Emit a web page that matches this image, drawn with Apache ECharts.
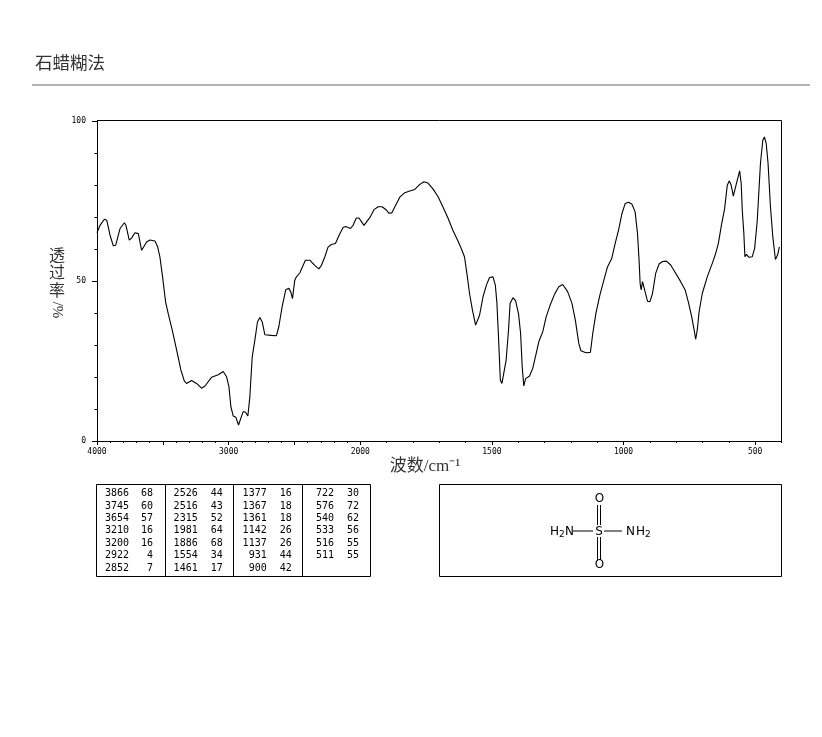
<!DOCTYPE html>
<html><head><meta charset="utf-8">
<script src="https://cdn.jsdelivr.net/npm/echarts@6/dist/echarts.min.js"></script>
<style>html,body{margin:0;padding:0;background:#fff}#c{width:822px;height:737px}</style>
</head><body><div id="c"></div>
<script>
const titleText = '石蜡糊法';
const xName = '波数/cm⁻¹';
// 4000-2000 cm-1 half of the spectrum (axis scale changes at 2000)
const wnHigh = [4000,3977,3944,3926,3901,3876,3858,3825,3792,3780,3755,3737,3712,3686,3661,3648,3623,3598,3560,3540,3522,3502,3479,3459,3428,3395,3363,3337,3320,3282,3244,3206,3180,3130,3079,3041,3016,2998,2983,2965,2945,2925,2890,2872,2854,2839,2821,2801,2781,2763,2745,2725,2675,2637,2619,2594,2566,2543,2528,2515,2498,2485,2460,2417,2384,2346,2315,2295,2270,2245,2220,2189,2161,2131,2111,2075,2055,2030,2012,2000];
const tHigh = [65.1,67.4,69.3,69,64.3,61,61.2,66.4,68.2,67.4,62.8,63.4,65.1,64.8,59.6,59.8,62.2,62.8,62.5,60.8,57.5,51.3,43.5,39.8,34.6,28.4,22.2,18.8,18,18.9,18,16.5,17.2,19.9,20.7,21.7,20.1,17,10.7,7.8,7.4,5,9.2,9,7.8,13.8,26.3,31.5,37.2,38.6,37.2,33.2,33,32.9,35.7,41.9,47.3,47.7,46.6,44.5,50.2,51.3,52.5,56.5,56.5,54.9,53.8,54.9,57.5,60.6,61.4,61.7,64.3,66.7,67,66.4,67.4,69.7,69.7,69.1];
// 2000-400 cm-1 half
const wnLow = [2000,1986,1979,1964,1948,1932,1917,1900,1892,1880,1869,1850,1831,1812,1793,1774,1758,1743,1724,1705,1686,1667,1648,1629,1616,1604,1595,1585,1574,1562,1555,1547,1534,1521,1509,1496,1487,1481,1475,1468,1462,1456,1446,1437,1431,1420,1410,1399,1391,1385,1379,1372,1357,1345,1332,1322,1307,1294,1279,1262,1246,1231,1212,1196,1183,1170,1162,1143,1126,1117,1105,1090,1073,1061,1045,1032,1019,1006,994,981,968,956,947,941,937,933,928,922,918,909,900,890,878,865,852,837,821,802,783,766,754,741,732,726,720,713,701,682,663,650,640,627,616,606,598,591,583,577,568,559,553,549,543,539,533,524,511,502,492,480,471,465,458,451,442,433,423,415,408];
const tLow = [69.1,67.4,67.3,69.8,72.3,73.2,73.2,72.1,71.2,71.3,73.1,76.2,77.6,78.1,78.6,80.2,81,80.6,78.8,76.4,73.1,69.7,65.8,62.5,60.1,57.5,52.3,46.1,40.9,36.2,36.1,39.3,45,48.7,51.1,51.3,48.7,43,32.5,19,18,18.5,25.3,34.6,43,44.8,43.8,39.8,33.6,23.2,17.2,19.5,20.3,22.7,27.3,31,34.1,38.8,42.4,45.9,48.2,48.9,46.6,43,37.7,30.5,28.2,27.6,27.7,33.6,39.9,45.6,50.8,54.4,57,61.7,65.9,71.1,74.2,74.6,74,71.6,64.8,56.5,49.2,47.2,49.8,50,46.6,43.7,43.5,46.1,52.4,55.3,56.1,56.2,55,52.4,49.8,47.2,43.5,38.8,34.7,31.8,34.7,40.4,46.1,51.3,55.5,58.6,61.7,68,72.6,79.9,81.3,79.9,76.5,76.5,81.5,84.4,80.4,72.1,64.8,57.6,58.3,57.4,57.6,60.2,69,86.7,94,95,92.9,86.7,73.2,63.8,56.7,58.1,60.7];
// tick labels
const highMajor = [4000,3500,3000,2500,2000];
const highLabels = [4000,3000,2000];
const lowMajor = [2000,1500,1000,500];
const lowLabels = [1500,1000,500];
const highMinor = [3900,3800,3700,3600,3400,3300,3200,3100,2900,2800,2700,2600,2400,2300,2200,2100];
const lowMinor = [1900,1800,1700,1600,1400,1300,1200,1100,900,800,700,600,400];
const yMajor = [0,50,100];
const yMinor = [10,20,30,40,60,70,80,90];
// peak table
const peakCols = [
  [[3866,68],[3745,60],[3654,57],[3210,16],[3200,16],[2922,4],[2852,7]],
  [[2526,44],[2516,43],[2315,52],[1981,64],[1886,68],[1554,34],[1461,17]],
  [[1377,16],[1367,18],[1361,18],[1142,26],[1137,26],[931,44],[900,42]],
  [[722,30],[576,72],[540,62],[533,56],[516,55],[511,55]]
];

const mono = '"DejaVu Sans Mono",monospace';
const cjk = '"Liberation Serif","Noto Sans CJK SC",serif';
const ink = '#000';
const g = [];
const line = (x1,y1,x2,y2,stroke,w) => g.push({type:'line',silent:true,shape:{x1,y1,x2,y2},style:{stroke:stroke||ink,lineWidth:w||1}});
const text = (x,y,t,o) => g.push({type:'text',silent:true,x,y,rotation:(o&&o.rotation)||0,style:Object.assign({text:t,fill:ink,font:'10px '+mono,textAlign:'left',textVerticalAlign:'middle'},o&&o.style)});

text(35,64,titleText,{style:{font:'17.5px '+cjk,fill:'#333'}});
line(32,85,810,85,'#999',1.5);
line(97,120.5,781.5,120.5);
line(781.5,120.5,781.5,441);
text(425,467,xName,{style:{font:'17px '+cjk,fill:'#333',textAlign:'center'}});
text(57,274,'透\n过\n率',{style:{font:'16px '+cjk,fill:'#333',textAlign:'center',lineHeight:17.5}});
text(57,310,'/%',{rotation:-Math.PI/2,style:{font:'15px '+cjk,fill:'#333',textAlign:'center'}});

// table
line(96.5,484.5,370.5,484.5);line(96.5,576.5,370.5,576.5);line(96.5,484.5,96.5,576.5);line(370.5,484.5,370.5,576.5);
[165,233,302].forEach(x=>line(x+.5,484.5,x+.5,576.5));
const colX = [[129,153],[197.7,222.7],[266.7,291.7],[334,359]];
peakCols.forEach((col,i)=>col.forEach((r,j)=>{
  const y = 493.7+j*12.4;
  text(colX[i][0],y,String(r[0]),{style:{textAlign:'right'}});
  text(colX[i][1],y,String(r[1]),{style:{textAlign:'right'}});
}));

// structure
line(439.5,484.5,781.5,484.5);line(439.5,576.5,781.5,576.5);line(439.5,484.5,439.5,576.5);line(781.5,484.5,781.5,576.5);
line(573,531,593,531);line(604,531,622,531);
line(597.5,505,597.5,525);line(600.5,505,600.5,525);
line(597.5,537,597.5,560);line(600.5,537,600.5,560);
const sf = {font:'12px "DejaVu Sans",sans-serif'}, sub={font:'9px "DejaVu Sans",sans-serif'};
text(599,532,'S',{style:Object.assign({textAlign:'center'},sf)});
text(599.5,499,'O',{style:Object.assign({textAlign:'center'},sf)});
text(599.5,565,'O',{style:Object.assign({textAlign:'center'},sf)});
text(550,532,'H',{style:sf});text(559,535,'2',{style:sub});text(565,532,'N',{style:sf});
text(626,532,'N',{style:sf});text(636,532,'H',{style:sf});text(645,535,'2',{style:sub});

const plain = v => String(v);
const xBase = {type:'value',inverse:true,position:'bottom',splitLine:{show:false},axisLine:{show:true,lineStyle:{color:ink,width:1}}};
const tickLbl = {fontFamily:mono,fontSize:8,color:ink,margin:7,formatter:plain};
const xAxes = [
  {...xBase,gridIndex:0,min:2000,max:4000,axisTick:{show:true,length:4,lineStyle:{color:ink},customValues:highMajor},axisLabel:{...tickLbl,customValues:highLabels}},
  {...xBase,gridIndex:0,min:2000,max:4000,axisTick:{show:true,length:2,lineStyle:{color:ink},customValues:highMinor},axisLabel:{show:false}},
  {...xBase,gridIndex:1,min:400,max:2000,axisTick:{show:true,length:4,lineStyle:{color:ink},customValues:lowMajor},axisLabel:{...tickLbl,customValues:lowLabels}},
  {...xBase,gridIndex:1,min:400,max:2000,axisTick:{show:true,length:2,lineStyle:{color:ink},customValues:lowMinor},axisLabel:{show:false}}
];
const yBase = {type:'value',min:0,max:100,position:'left',splitLine:{show:false}};
const yAxes = [
  {...yBase,gridIndex:0,axisLine:{show:true,lineStyle:{color:ink}},axisTick:{show:true,length:5,lineStyle:{color:ink},customValues:yMajor},axisLabel:{fontFamily:mono,fontSize:8,color:ink,margin:11,customValues:yMajor,formatter:plain}},
  {...yBase,gridIndex:0,axisLine:{show:false},axisTick:{show:true,length:2.5,lineStyle:{color:ink},customValues:yMinor},axisLabel:{show:false}},
  {...yBase,gridIndex:1,show:false}
];
const lineSeries = (xs,ys,xi,yi) => ({type:'line',xAxisIndex:xi,yAxisIndex:yi,data:xs.map((x,i)=>[x,ys[i]]),symbol:'none',silent:true,clip:false,animation:false,lineStyle:{color:ink,width:1.1},smooth:false});

const chart = echarts.init(document.getElementById('c'),null,{renderer:'canvas'});
chart.setOption({
  animation:false,backgroundColor:'#fff',
  tooltip:{show:false},
  grid:[
    {left:97,top:121,width:263.3,height:320},
    {left:360.3,top:121,width:421.2,height:320}
  ],
  xAxis:xAxes,yAxis:yAxes,
  series:[lineSeries(wnHigh,tHigh,0,0),lineSeries(wnLow,tLow,2,2)],
  graphic:g
});
</script></body></html>
